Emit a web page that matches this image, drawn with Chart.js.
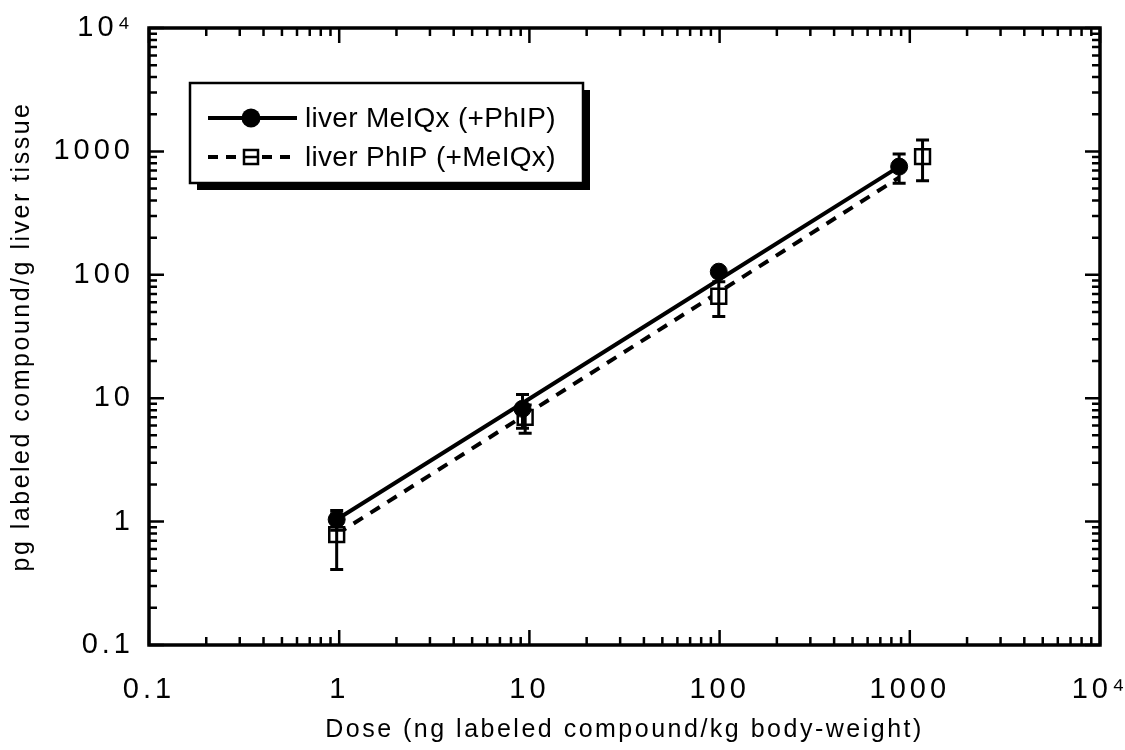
<!DOCTYPE html>
<html>
<head>
<meta charset="utf-8">
<script src="https://cdn.jsdelivr.net/npm/chart.js@4.4.1/dist/chart.umd.min.js"></script>
<style>
  html, body { margin: 0; padding: 0; background: #fff; }
  #wrap { width: 1125px; height: 750px; }
</style>
</head>
<body>
<div id="wrap"><canvas id="doseChart" width="1125" height="750"></canvas></div>
<script>
// meetpunten: dosis (ng/kg) en gehalte (pg/g lever), met foutmarge
const meiqxDose = [0.97, 9.2, 99, 879];
const meiqxLevel = [1.04, 8.2, 106, 753];
const meiqxErr = [0.19, 2.5, 6, 200];

const phipDose = [0.97, 9.5, 99, 1167];
const phipLevel = [0.785, 7.0, 67, 908];
const phipErr = [0.375, 1.8, 21, 330];

const meiqxFitDose = [0.97, 10, 100, 879];
const meiqxFitLevel = [1.04, 9.9, 92, 753];
const phipFitDose = [0.97, 10, 100, 875];
const phipFitLevel = [0.79, 7.7, 73, 611];

// as-labels
const decades = [0.1, 1, 10, 100, 1000, 10000];
const xTickLabels = ['0.1', '1', '10', '100', '1000', '10⁴'];
const yTickLabels = ['0.1', '1', '10', '100', '1000', '10⁴'];
const seriesNames = ['liver MeIQx (+PhIP)', 'liver PhIP (+MeIQx)'];

const FONT = '"Liberation Sans", Arial, Helvetica, sans-serif';

function toPoints(xs, ys) {
    return xs.map((x, i) => ({ x: x, y: ys[i] }));
}

// letterafstand zoals in de originele figuur (astitels smaller, getallen breder)
const spacing = {
    id: 'spacing',
    beforeUpdate(chart) { chart.ctx.letterSpacing = '2.5px'; },
    beforeDraw(chart) { chart.ctx.letterSpacing = '2.5px'; },
    afterDatasetsDraw(chart) { chart.ctx.letterSpacing = '4px'; }
};

// kader met streepjes naar binnen op alle vier zijden
const frameTicks = {
    id: 'frameTicks',
    afterDraw(chart) {
        const ctx = chart.ctx;
        const a = chart.chartArea;
        const xs = chart.scales.x, ys = chart.scales.y;
        ctx.save();
        ctx.strokeStyle = '#000';
        ctx.lineWidth = 2.5;
        ctx.beginPath();
        for (let d = 0; d < decades.length; d++) {
            for (let m = 1; m <= 9; m++) {
                if (d === decades.length - 1 && m > 1) break;
                const v = decades[d] * m;
                const len = m === 1 ? 15 : 8;
                const px = xs.getPixelForValue(v);
                ctx.moveTo(px, a.bottom); ctx.lineTo(px, a.bottom - len);
                ctx.moveTo(px, a.top); ctx.lineTo(px, a.top + len);
                const py = ys.getPixelForValue(v);
                ctx.moveTo(a.left, py); ctx.lineTo(a.left + len, py);
                ctx.moveTo(a.right, py); ctx.lineTo(a.right - len, py);
            }
        }
        ctx.stroke();
        ctx.lineWidth = 3.5;
        ctx.strokeRect(a.left, a.top, a.right - a.left, a.bottom - a.top);
        ctx.restore();
    }
};

// foutbalken
function drawErrors(ctx, xs, ys, dose, level, err) {
    for (let i = 0; i < dose.length; i++) {
        const px = xs.getPixelForValue(dose[i]);
        const top = ys.getPixelForValue(level[i] + err[i]);
        const bot = ys.getPixelForValue(level[i] - err[i]);
        ctx.beginPath();
        ctx.moveTo(px, top); ctx.lineTo(px, bot);
        ctx.moveTo(px - 6.5, top); ctx.lineTo(px + 6.5, top);
        ctx.moveTo(px - 6.5, bot); ctx.lineTo(px + 6.5, bot);
        ctx.stroke();
    }
}

const errorBars = {
    id: 'errorBars',
    afterDatasetsDraw(chart) {
        const ctx = chart.ctx;
        const xs = chart.scales.x, ys = chart.scales.y;
        ctx.save();
        ctx.strokeStyle = '#000';
        ctx.lineWidth = 3;
        drawErrors(ctx, xs, ys, meiqxDose, meiqxLevel, meiqxErr);
        drawErrors(ctx, xs, ys, phipDose, phipLevel, phipErr);
        ctx.restore();
    }
};

// legenda met schaduw
const boxLegend = {
    id: 'boxLegend',
    afterDraw(chart) {
        const ctx = chart.ctx;
        const bx = 190, by = 83, bw = 393, bh = 100;
        ctx.save();
        ctx.fillStyle = '#000';
        ctx.fillRect(bx + 7, by + 7, bw, bh);
        ctx.fillStyle = '#fff';
        ctx.fillRect(bx, by, bw, bh);
        ctx.strokeStyle = '#000';
        ctx.lineWidth = 2.5;
        ctx.strokeRect(bx, by, bw, bh);

        const rows = [118, 157];
        ctx.lineWidth = 4;
        // rij 1: doorgetrokken lijn met dichte cirkel
        ctx.setLineDash([]);
        ctx.beginPath(); ctx.moveTo(208, rows[0]); ctx.lineTo(297, rows[0]); ctx.stroke();
        ctx.beginPath(); ctx.arc(251, rows[0], 9.5, 0, Math.PI * 2); ctx.fillStyle = '#000'; ctx.fill();
        // rij 2: stippellijn met open vierkant
        ctx.setLineDash([10, 8]);
        ctx.beginPath(); ctx.moveTo(208, rows[1]); ctx.lineTo(297, rows[1]); ctx.stroke();
        ctx.setLineDash([]);
        ctx.fillStyle = '#fff';
        ctx.fillRect(244, rows[1] - 7, 14, 14);
        ctx.lineWidth = 2.5;
        ctx.strokeRect(244, rows[1] - 7, 14, 14);
        ctx.beginPath(); ctx.moveTo(244, rows[1]); ctx.lineTo(258, rows[1]); ctx.stroke();

        ctx.fillStyle = '#000';
        ctx.letterSpacing = '0.3px';
        ctx.font = '28px ' + FONT;
        ctx.textBaseline = 'middle';
        ctx.textAlign = 'left';
        ctx.fillText(seriesNames[0], 305, rows[0] + 1);
        ctx.fillText(seriesNames[1], 305, rows[1] + 1);
        ctx.restore();
    }
};

const ctx = document.getElementById('doseChart').getContext('2d');

const doseChart = new Chart(ctx, {
    type: 'scatter',
    data: {
        datasets: [
            {
                label: seriesNames[0] + ' fit',
                data: toPoints(meiqxFitDose, meiqxFitLevel),
                showLine: true,
                borderColor: '#000',
                borderWidth: 4,
                pointRadius: 0,
                order: 4
            },
            {
                label: seriesNames[1] + ' fit',
                data: toPoints(phipFitDose, phipFitLevel),
                showLine: true,
                borderColor: '#000',
                borderWidth: 4,
                borderDash: [11, 9],
                pointRadius: 0,
                order: 3
            },
            {
                label: seriesNames[1],
                data: toPoints(phipDose, phipLevel),
                pointStyle: 'rect',
                pointRadius: 10.5,
                backgroundColor: '#fff',
                borderColor: '#000',
                borderWidth: 2.5,
                order: 2
            },
            {
                label: seriesNames[0],
                data: toPoints(meiqxDose, meiqxLevel),
                pointStyle: 'circle',
                pointRadius: 8.5,
                backgroundColor: '#000',
                borderColor: '#000',
                borderWidth: 1,
                order: 1
            }
        ]
    },
    options: {
        responsive: false,
        animation: false,
        layout: { padding: { top: 28, right: 25, left: 0, bottom: 0 } },
        plugins: {
            legend: { display: false },
            tooltip: { enabled: false }
        },
        scales: {
            x: {
                type: 'logarithmic',
                min: 0.1,
                max: 10000,
                grid: { display: false, drawTicks: false },
                border: { display: false },
                afterBuildTicks: s => { s.ticks = decades.map(v => ({ value: v })); },
                afterFit: s => { s.height = 105; s.paddingLeft = 0; s.paddingRight = 0; },
                ticks: {
                    z: 1,
                    callback: v => xTickLabels[decades.indexOf(v)],
                    font: { size: 29, family: FONT },
                    color: '#000',
                    padding: 28,
                    maxRotation: 0,
                    autoSkip: false
                },
                title: {
                    display: true,
                    text: 'Dose (ng labeled compound/kg body-weight)',
                    font: { size: 25, family: FONT },
                    color: '#000',
                    padding: { top: 0, bottom: 5 }
                }
            },
            y: {
                type: 'logarithmic',
                min: 0.1,
                max: 10000,
                grid: { display: false, drawTicks: false },
                border: { display: false },
                afterBuildTicks: s => { s.ticks = decades.map(v => ({ value: v })); },
                afterFit: s => { s.width = 149; s.paddingTop = 0; s.paddingBottom = 0; },
                ticks: {
                    z: 1,
                    callback: v => yTickLabels[decades.indexOf(v)],
                    font: { size: 29, family: FONT },
                    color: '#000',
                    padding: 15,
                    autoSkip: false
                },
                title: {
                    display: true,
                    text: 'pg labeled compound/g liver tissue',
                    font: { size: 25, family: FONT },
                    color: '#000',
                    padding: { top: 7, bottom: 0 }
                }
            }
        }
    },
    plugins: [spacing, errorBars, frameTicks, boxLegend]
});
</script>
</body>
</html>
